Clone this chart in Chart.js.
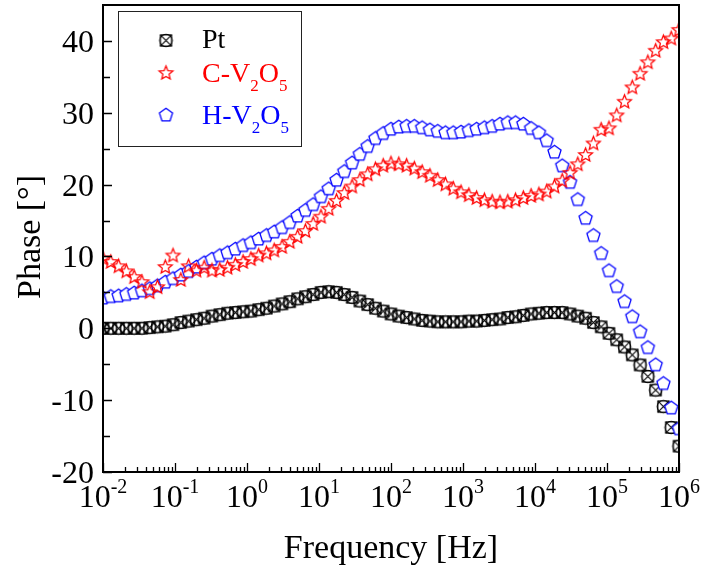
<!DOCTYPE html>
<html>
<head>
<meta charset="utf-8">
<script src="https://cdn.jsdelivr.net/npm/chart.js@4.4.1/dist/chart.umd.min.js"></script>
<style>
  html, body { margin: 0; padding: 0; background: #fff; }
  canvas { display: block; }
</style>
</head>
<body>
<canvas id="phaseChart" width="702" height="573"></canvas>
<script>
// Measurement frequencies [Hz], low to high
const frequency = [
  0.0100, 0.01282, 0.01645, 0.02110, 0.02707, 0.03472, 0.04453, 0.05712, 0.07327, 0.09397,
  0.1205, 0.1546, 0.1983, 0.2543, 0.3262, 0.4184, 0.5367, 0.6884, 0.8830, 1.133,
  1.453, 1.863, 2.390, 3.066, 3.932, 5.044, 6.469, 8.298, 10.64, 13.65,
  17.51, 22.46, 28.80, 36.95, 47.39, 60.79, 77.98, 100.0, 128.3, 164.5,
  211.0, 270.7, 347.2, 445.4, 571.3, 732.8, 939.8, 1205, 1546, 1983,
  2543, 3262, 4184, 5367, 6884, 8830, 11330, 14530, 18630, 23900,
  30660, 39320, 50440, 64690, 82980, 106400, 136500, 175100, 224600, 288000,
  369500, 473900, 607900, 779800, 1000000
];

// Phase [deg] of each electrode
const phasePt = [
  0.0, 0.0, 0.0, 0.0, 0.0, 0.0, 0.1, 0.2, 0.3, 0.5,
  0.8, 1.0, 1.2, 1.4, 1.7, 1.9, 2.1, 2.2, 2.3, 2.4,
  2.6, 2.8, 3.1, 3.4, 3.7, 4.1, 4.4, 4.7, 5.0, 5.1,
  5.0, 4.7, 4.3, 3.8, 3.3, 2.8, 2.4, 2.0, 1.7, 1.5,
  1.3, 1.1, 1.0, 0.9, 0.9, 0.9, 0.9, 1.0, 1.0, 1.1,
  1.2, 1.3, 1.5, 1.6, 1.8, 2.0, 2.1, 2.2, 2.2, 2.2,
  2.0, 1.7, 1.4, 0.8, 0.2, -0.7, -1.6, -2.6, -3.7, -5.1,
  -6.7, -8.6, -10.9, -13.8, -16.4
];
const phaseCV2O5 = [
  9.8, 9.3, 8.7, 8.0, 7.2, 6.5, 5.1, 5.8, 8.6, 10.2,
  6.8, 8.7, 8.1, 8.5, 8.1, 8.2, 8.5, 8.9, 9.3, 9.7,
  10.2, 10.5, 10.9, 11.4, 12.1, 12.8, 13.6, 14.6, 15.6, 16.7,
  17.8, 18.9, 19.8, 20.7, 21.5, 22.2, 22.7, 23.0, 22.9, 22.7,
  22.3, 21.8, 21.3, 20.7, 20.1, 19.5, 19.0, 18.6, 18.2, 17.9,
  17.7, 17.6, 17.7, 17.9, 18.2, 18.5, 18.7, 19.1, 19.8, 20.6,
  21.7, 22.9, 24.2, 25.8, 27.7, 27.9, 29.7, 31.6, 33.6, 35.5,
  37.1, 38.7, 39.9, 40.4, 41.6
];
const phaseHV2O5 = [
  4.3, 4.5, 4.6, 4.8, 5.0, 5.3, 5.6, 6.0, 6.5, 7.0,
  7.5, 8.0, 8.6, 9.2, 9.7, 10.2, 10.6, 11.1, 11.6, 12.0,
  12.5, 13.0, 13.5, 14.1, 14.8, 15.7, 16.5, 17.3, 18.4, 19.5,
  20.7, 21.9, 23.1, 24.3, 25.4, 26.5, 27.2, 27.8, 28.1, 28.2,
  28.2, 28.0, 27.7, 27.5, 27.3, 27.3, 27.4, 27.6, 27.8, 28.0,
  28.2, 28.5, 28.7, 28.7, 28.5, 27.9, 27.3, 26.2, 24.6, 22.7,
  20.4, 18.0, 15.4, 13.0, 10.5, 8.1, 5.9, 3.8, 1.7, -0.4,
  -2.6, -5.0, -7.6, -11.0, -13.9
];

// Axis ticks
const xDecades = [-2, -1, 0, 1, 2, 3, 4, 5, 6];
const xMinorFactors = [2, 3, 4, 5, 6, 7, 8, 9];
const yTicks = [-20, -10, 0, 10, 20, 30, 40];
const yMinorTicks = [-15, -5, 5, 15, 25, 35];

const SERIF = '"Liberation Serif", "Times New Roman", Times, serif';

// ----- marker glyphs -----
function markerCanvas(size, draw) {
  const c = document.createElement('canvas');
  c.width = size; c.height = size;
  const g = c.getContext('2d');
  draw(g, size / 2);
  return c;
}
const ptMarker = markerCanvas(17, (g, m) => {
  g.strokeStyle = '#000'; g.lineWidth = 1.1;
  const h = 5.6;
  g.strokeRect(m - h, m - h, 2 * h, 2 * h);
  g.beginPath();
  g.moveTo(m - h, m - h); g.lineTo(m + h, m + h);
  g.moveTo(m + h, m - h); g.lineTo(m - h, m + h);
  g.stroke();
  g.beginPath(); g.arc(m, m, 6.3, 0, Math.PI * 2); g.stroke();
});
const starMarker = markerCanvas(19, (g, m) => {
  g.strokeStyle = '#ff0000'; g.lineWidth = 1.25;
  g.beginPath();
  for (let k = 0; k < 10; k++) {
    const r = k % 2 ? 3.2 : 7.2;
    const a = -Math.PI / 2 + k * Math.PI / 5;
    g.lineTo(m + r * Math.cos(a), m + 0.7 + r * Math.sin(a));
  }
  g.closePath(); g.stroke();
});
const pentMarker = markerCanvas(19, (g, m) => {
  g.fillStyle = '#fff'; g.strokeStyle = '#0000ff'; g.lineWidth = 1.25;
  g.beginPath();
  for (let k = 0; k < 5; k++) {
    const a = -Math.PI / 2 + k * 2 * Math.PI / 5;
    g.lineTo(m + 6.9 * Math.cos(a), m + 0.7 + 6.9 * Math.sin(a));
  }
  g.closePath(); g.fill(); g.stroke();
});

const points = vals => frequency.map((f, i) => ({ x: f, y: vals[i] }));

// Text with sub/superscript pieces
function drawRich(ctx, parts, x, baseline, size, align) {
  const subSize = Math.round(size * 0.6);
  let total = 0;
  const widths = parts.map(p => {
    ctx.font = `${p.sub || p.sup ? subSize : size}px ${SERIF}`;
    const w = ctx.measureText(p.t).width;
    total += w; return w;
  });
  let cx = align === 'center' ? x - total / 2 : x;
  parts.forEach((p, i) => {
    ctx.font = `${p.sub || p.sup ? subSize : size}px ${SERIF}`;
    const dy = p.sub ? size * 0.32 : p.sup ? -size * 0.42 : 0;
    ctx.fillText(p.t, cx, baseline + dy);
    cx += widths[i];
  });
}

const legendEntries = [
  { parts: [{ t: 'Pt' }], color: '#000', marker: ptMarker, markerY: 40.5, baseline: 48 },
  { parts: [{ t: 'C-V' }, { t: '2', sub: true }, { t: 'O' }, { t: '5', sub: true }], color: '#ff0000', marker: starMarker, markerY: 72.5, baseline: 82 },
  { parts: [{ t: 'H-V' }, { t: '2', sub: true }, { t: 'O' }, { t: '5', sub: true }], color: '#0000ff', marker: pentMarker, markerY: 114.5, baseline: 124 }
];

const framePlugin = {
  id: 'frame',
  afterDraw(chart) {
    const { ctx, chartArea: a, scales: { x, y } } = chart;
    ctx.save();
    // plot box
    ctx.strokeStyle = '#000';
    ctx.lineWidth = 2;
    ctx.strokeRect(a.left, a.top, a.right - a.left, a.bottom - a.top);

    // inward ticks
    ctx.lineWidth = 1.3;
    ctx.beginPath();
    xDecades.forEach(d => {
      const px = Math.round(x.getPixelForValue(Math.pow(10, d))) + 0.5;
      ctx.moveTo(px, a.bottom); ctx.lineTo(px, a.bottom - 9);
      if (d < xDecades[xDecades.length - 1]) {
        xMinorFactors.forEach(m => {
          const q = Math.round(x.getPixelForValue(m * Math.pow(10, d))) + 0.5;
          ctx.moveTo(q, a.bottom); ctx.lineTo(q, a.bottom - 5);
        });
      }
    });
    yTicks.forEach(v => {
      const py = Math.round(y.getPixelForValue(v)) + 0.5;
      ctx.moveTo(a.left, py); ctx.lineTo(a.left + 9, py);
    });
    yMinorTicks.forEach(v => {
      const py = Math.round(y.getPixelForValue(v)) + 0.5;
      ctx.moveTo(a.left, py); ctx.lineTo(a.left + 7, py);
    });
    ctx.stroke();

    // tick labels
    ctx.fillStyle = '#000';
    ctx.textBaseline = 'alphabetic';
    ctx.font = `32px ${SERIF}`;
    ctx.textAlign = 'right';
    yTicks.forEach(v => ctx.fillText(String(v), a.left - 9, y.getPixelForValue(v) + 11));
    ctx.textAlign = 'left';
    xDecades.forEach(d => {
      const px = x.getPixelForValue(Math.pow(10, d));
      ctx.font = `32px ${SERIF}`;
      const w1 = ctx.measureText('10').width;
      ctx.font = `20px ${SERIF}`;
      const w2 = ctx.measureText(String(d)).width;
      const start = px - (w1 + w2) / 2;
      ctx.font = `32px ${SERIF}`;
      ctx.fillText('10', start, a.bottom + 35);
      ctx.font = `20px ${SERIF}`;
      ctx.fillText(String(d), start + w1, a.bottom + 21);
    });

    // axis titles
    ctx.font = `34px ${SERIF}`;
    ctx.textAlign = 'center';
    ctx.fillText('Frequency [Hz]', (a.left + a.right) / 2, 558);
    ctx.save();
    ctx.translate(40, 237);
    ctx.rotate(-Math.PI / 2);
    ctx.fillText('Phase [°]', 0, 0);
    ctx.restore();

    // legend
    ctx.lineWidth = 1;
    ctx.strokeStyle = '#222';
    ctx.strokeRect(118.5, 11.5, 183, 135);
    ctx.textAlign = 'left';
    legendEntries.forEach(e => {
      const mk = e.marker;
      ctx.drawImage(mk, 166 - mk.width / 2, e.markerY - mk.height / 2);
      ctx.fillStyle = e.color;
      drawRich(ctx, e.parts, 202, e.baseline, 28, 'left');
    });
    ctx.restore();
  }
};

new Chart(document.getElementById('phaseChart'), {
  type: 'scatter',
  data: {
    datasets: [
      { label: 'C-V2O5', data: points(phaseCV2O5), pointStyle: starMarker, order: 0 },
      { label: 'H-V2O5', data: points(phaseHV2O5), pointStyle: pentMarker, order: 1 },
      { label: 'Pt', data: points(phasePt), pointStyle: ptMarker, order: 2 }
    ]
  },
  options: {
    responsive: false,
    animation: false,
    devicePixelRatio: 1,
    events: [],
    layout: { padding: { left: 103, right: 23, top: 5, bottom: 101 } },
    plugins: { legend: { display: false }, tooltip: { enabled: false } },
    scales: {
      x: { type: 'logarithmic', min: 0.01, max: 1e6, display: false },
      y: { type: 'linear', min: -20, max: 45, display: false }
    }
  },
  plugins: [framePlugin]
});
</script>
</body>
</html>
